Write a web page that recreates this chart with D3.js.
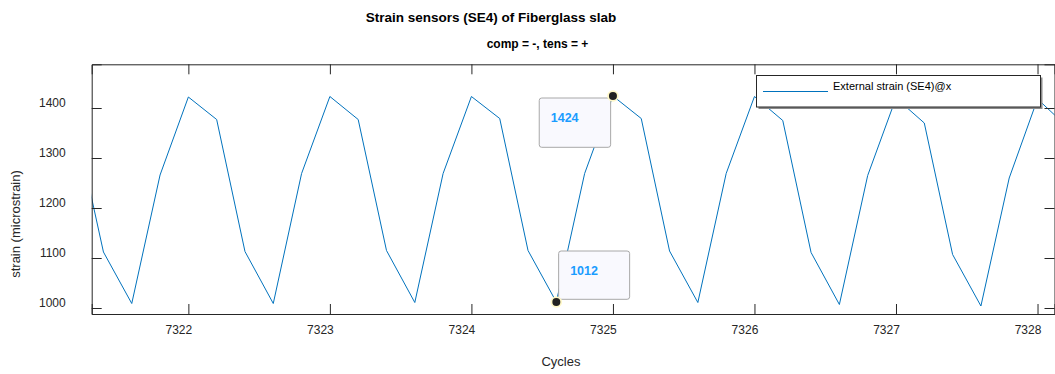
<!DOCTYPE html>
<html>
<head>
<meta charset="utf-8">
<script src="https://cdn.jsdelivr.net/npm/d3@7"></script>
<style>
  html, body { margin: 0; padding: 0; background: #fff; }
  svg { display: block; font-family: "Liberation Sans", Arial, sans-serif; }
</style>
</head>
<body>
<svg id="chart" width="1055" height="374"></svg>
<script>
// Sampled cycle positions and external strain readings (SE4)
const cycles = [
  7321.2, 7321.4, 7321.6, 7321.8,
  7322.0, 7322.2, 7322.4, 7322.6, 7322.8,
  7323.0, 7323.2, 7323.4, 7323.6, 7323.8,
  7324.0, 7324.2, 7324.4, 7324.6, 7324.8,
  7325.0, 7325.2, 7325.4, 7325.6, 7325.8,
  7326.0, 7326.2, 7326.4, 7326.6, 7326.8,
  7327.0, 7327.2, 7327.4, 7327.6, 7327.8,
  7328.0, 7328.2
];
const strain = [
  1370, 1112, 1009, 1266,
  1422, 1377, 1113, 1009, 1269,
  1423, 1377, 1115, 1011, 1269,
  1423, 1379, 1115, 1012, 1269,
  1424, 1379, 1114, 1011, 1269,
  1423, 1375, 1111, 1007, 1265,
  1420, 1370, 1107, 1004, 1260,
  1418, 1365
];
const xTicks = [7322, 7323, 7324, 7325, 7326, 7327, 7328];
const yTicks = [1000, 1100, 1200, 1300, 1400];
const seriesName = "External strain (SE4)@x";
// indices of the annotated data tips
const tipIndex = [19, 17];

const svg = d3.select("#chart");
const L = 91.7, R = 1054.5, T = 64.3, B = 314;
const x = d3.scaleLinear().domain([7321.317, 7328.12]).range([L, R]);
const y = d3.scaleLinear().domain([988, 1487.4]).range([B, T]);
const axisColor = "#262626";
const lineColor = "#0072BD";

// titles
svg.append("text").attr("x", 491).attr("y", 22).attr("text-anchor", "middle")
  .attr("font-size", 13.5).attr("font-weight", "bold").attr("fill", "#000")
  .text("Strain sensors (SE4) of Fiberglass slab");
svg.append("text").attr("x", 537.5).attr("y", 48).attr("text-anchor", "middle")
  .attr("font-size", 12).attr("font-weight", "bold").attr("fill", "#000")
  .text("comp = -, tens = +");

// clip region for the data
svg.append("clipPath").attr("id", "plotClip").append("rect")
  .attr("x", L).attr("y", T).attr("width", R - L).attr("height", B - T);

// data line
const line = d3.line().x((d, i) => x(cycles[i])).y(d => y(d));
svg.append("path").datum(strain)
  .attr("clip-path", "url(#plotClip)")
  .attr("d", line).attr("fill", "none")
  .attr("stroke", lineColor).attr("stroke-width", 1);

// axes (box with inward ticks on all sides)
const tickLen = 10;
const bottomAxis = d3.axisBottom(x).tickValues(xTicks).tickSize(-tickLen).tickPadding(0).tickFormat(d3.format("d"));
const topAxis = d3.axisTop(x).tickValues(xTicks).tickSize(-tickLen).tickFormat("");
const leftAxis = d3.axisLeft(y).tickValues(yTicks).tickSize(-tickLen).tickFormat(d3.format("d"));
const rightAxis = d3.axisRight(y).tickValues(yTicks).tickSize(-tickLen).tickFormat("");

function styleAxis(g) {
  g.select(".domain").attr("stroke", axisColor).attr("stroke-width", 1);
  g.selectAll(".tick line").attr("stroke", axisColor).attr("stroke-width", 1);
  g.selectAll(".tick text").attr("fill", axisColor).attr("font-size", 12)
    .attr("font-family", "Liberation Sans, Arial, sans-serif");
}
const gb = svg.append("g").attr("transform", `translate(0,${B})`).call(bottomAxis).call(styleAxis);
gb.selectAll(".tick text").attr("dx", -10).attr("y", 20).attr("dy", 0);
const gt = svg.append("g").attr("transform", `translate(0,${T})`).call(topAxis).call(styleAxis);
const gl = svg.append("g").attr("transform", `translate(${L},0)`).call(leftAxis).call(styleAxis);
gl.selectAll(".tick text").attr("x", -26).attr("dy", "-0.15em");
const gr = svg.append("g").attr("transform", `translate(${R},0)`).call(rightAxis).call(styleAxis);
[gb, gt, gl, gr].forEach(g => g.select(".domain").attr("fill", "none"));

// axis labels
svg.append("text").attr("x", 561).attr("y", 366).attr("text-anchor", "middle")
  .attr("font-size", 13).attr("fill", axisColor).text("Cycles");
svg.append("text").attr("transform", "translate(20,224) rotate(-90)")
  .attr("text-anchor", "middle").attr("font-size", 13).attr("fill", axisColor)
  .text("strain (microstrain)");

// legend
const lg = svg.append("g");
lg.append("rect").attr("x", 758.5).attr("y", 77.5).attr("width", 284).attr("height", 31.5)
  .attr("fill", "#8a8a8a");
lg.append("rect").attr("x", 756.5).attr("y", 75.5).attr("width", 284).attr("height", 31.5)
  .attr("fill", "#fff").attr("stroke", "#262626").attr("stroke-width", 1);
lg.append("line").attr("x1", 763).attr("x2", 828).attr("y1", 91.5).attr("y2", 91.5)
  .attr("stroke", lineColor).attr("stroke-width", 1);
lg.append("text").attr("x", 833).attr("y", 89.5).attr("font-size", 11).attr("fill", "#000")
  .text(seriesName);

// data tips
const tipBoxes = [
  { dx: -73.7, dy: 2, w: 71.4, h: 49.3 },
  { dx: 2.3, dy: -51, w: 71, h: 48.3 }
];
tipIndex.forEach((idx, k) => {
  const px = x(cycles[idx]), py = y(strain[idx]);
  const b = tipBoxes[k];
  const g = svg.append("g");
  g.append("rect").attr("x", px + b.dx).attr("y", py + b.dy).attr("width", b.w).attr("height", b.h)
    .attr("rx", 2.5).attr("fill", "#f9f9fe").attr("stroke", "#a8a8a8").attr("stroke-width", 1);
  g.append("text").attr("x", px + b.dx + 11.5).attr("y", py + b.dy + 24)
    .attr("font-size", 12.5).attr("font-weight", "bold").attr("fill", "#1a9cff")
    .text(d3.format("d")(strain[idx]));
  g.append("circle").attr("cx", px).attr("cy", py).attr("r", 5.8).attr("fill", "#fff8c8");
  g.append("circle").attr("cx", px).attr("cy", py).attr("r", 4).attr("fill", "#222");
});
</script>
</body>
</html>
